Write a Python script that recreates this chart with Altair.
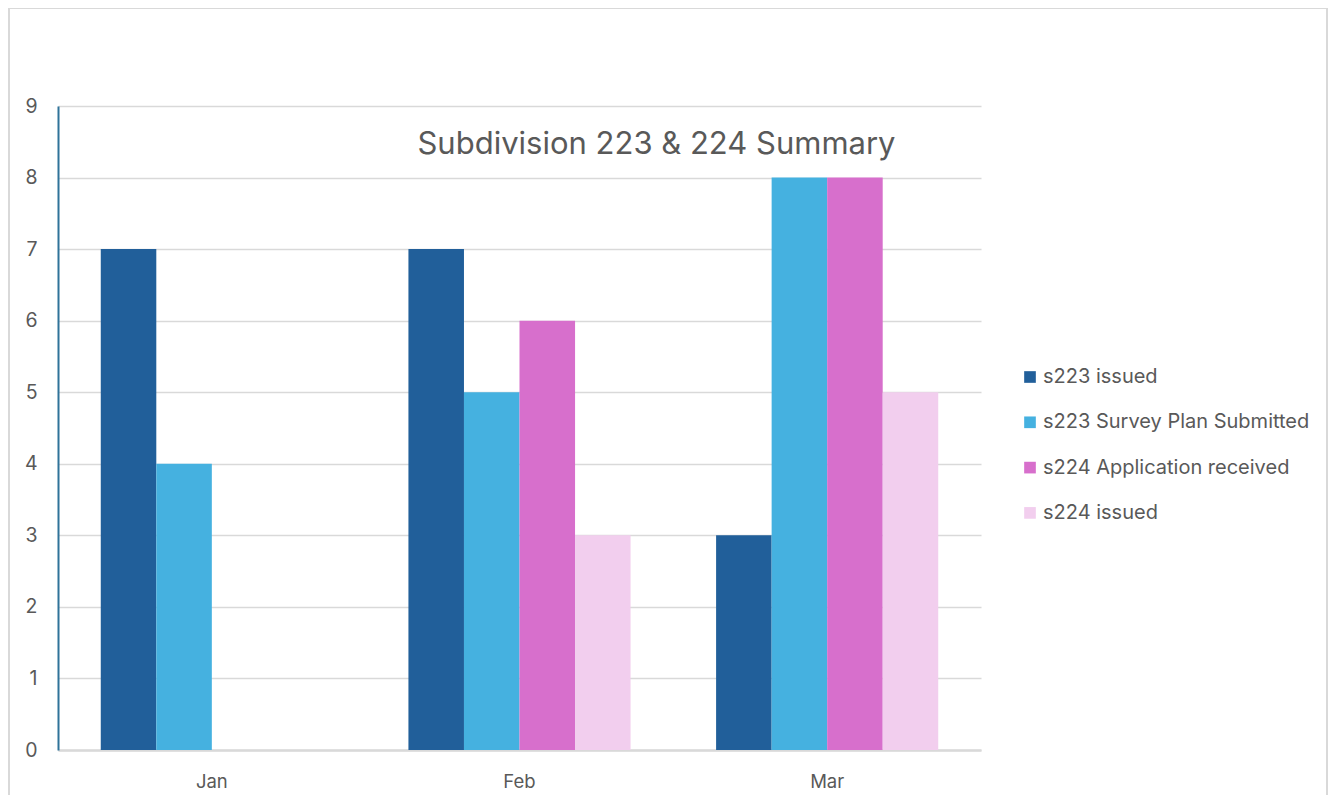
import altair as alt
import pandas as pd

months = ["Jan", "Feb", "Mar"]
series = ["s223 issued", "s223 Survey Plan Submitted", "s224 Application received", "s224 issued"]
s223_issued = [7, 7, 3]
s223_survey = [4, 5, 8]
s224_application = [0, 6, 8]
s224_issued = [0, 3, 5]
colors = ["#215F9A", "#45B1E0", "#D76FCC", "#F2CEEE"]
y_ticks = [0, 1, 2, 3, 4, 5, 6, 7, 8, 9]
title_text = "Subdivision 223 & 224 Summary"

rows = []
for i, m in enumerate(months):
    for s, vals in zip(series, [s223_issued, s223_survey, s224_application, s224_issued]):
        rows.append({"month": m, "series": s, "value": vals[i]})
df = pd.DataFrame(rows)

TXT = "#595959"
FONT = "Inter"

bars = alt.Chart(df).mark_bar().encode(
    x=alt.X("month:N", sort=months,
            scale=alt.Scale(paddingInner=0.278, paddingOuter=0.139),
            axis=alt.Axis(title=None, labelAngle=0, labelFontSize=18.5, labelColor=TXT,
                          labelPadding=22.5, ticks=False, domain=True, domainColor="#d9d9d9",
                          domainWidth=2.5, grid=False, labelFont=FONT)),
    xOffset=alt.XOffset("series:N", sort=series,
                        scale=alt.Scale(paddingInner=0, paddingOuter=0)),
    y=alt.Y("value:Q", scale=alt.Scale(domain=[0, 9], nice=False),
            axis=alt.Axis(values=y_ticks, title=None, ticks=False, labelFontSize=19.5,
                          labelColor=TXT, labelPadding=21, domain=True,
                          domainColor="#2F7399", domainWidth=2, grid=True,
                          gridColor="#d9d9d9", gridWidth=1.5, labelFont=FONT)),
    color=alt.Color("series:N", sort=series,
                    scale=alt.Scale(domain=series, range=colors),
                    legend=alt.Legend(title=None, orient="none", legendX=962, legendY=261,
                                      symbolType="square", symbolSize=136,
                                      symbolStrokeWidth=0, labelFontSize=20,
                                      labelColor=TXT, labelFont=FONT, labelOffset=3,
                                      labelLimit=500, rowPadding=25.3)),
)

border = alt.Chart(pd.DataFrame({"a": [0]})).mark_rect(
    filled=False, stroke="#d9d9d9", strokeWidth=2
).encode(x=alt.value(-49), x2=alt.value(1269), y=alt.value(-98), y2=alt.value(700))

chart = alt.layer(border, bars).properties(
    width=923,
    height=644,
    title=alt.TitleParams(title_text, anchor="middle", dx=137, dy=169, fontSize=31,
                          color=TXT, fontWeight="normal", font=FONT,
                          baseline="middle", offset=0),
    autosize=alt.AutoSizeParams(type="none"),
    padding={"left": 50, "top": 98, "right": 347, "bottom": 45},
).configure(font=FONT).configure_view(stroke=None)

chart.save("out.html", embed_options={"renderer": "svg", "actions": False})
